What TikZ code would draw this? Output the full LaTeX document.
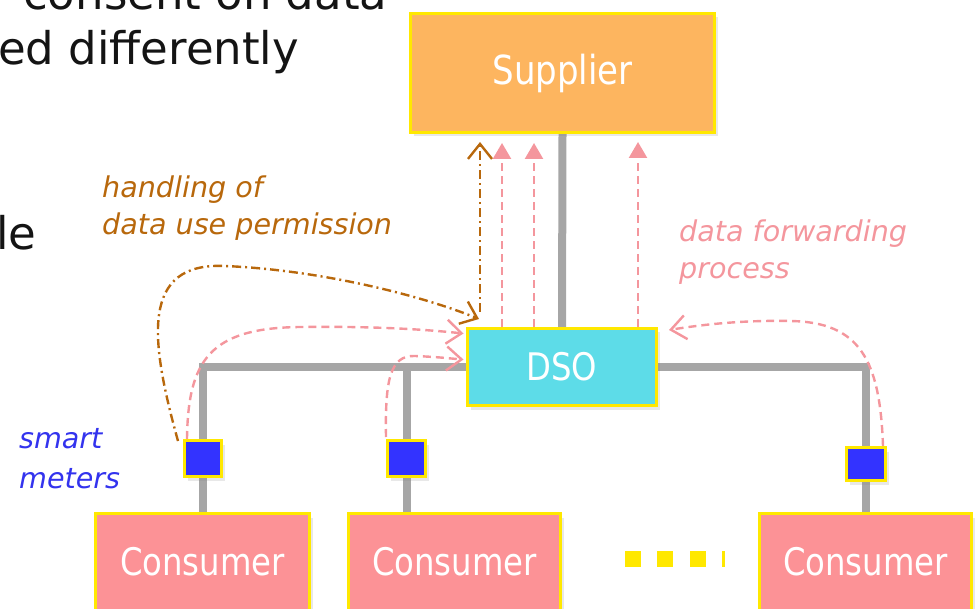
\documentclass[tikz,border=0pt]{standalone}
\usepackage{fontspec}
\setmainfont{DejaVu Sans}
\newfontfamily\boxfont{DejaVu Sans}[FakeStretch=0.85]
\usetikzlibrary{arrows.meta,calc,shadows}
\definecolor{supfill}{RGB}{253,181,95}
\definecolor{dsofill}{RGB}{93,220,232}
\definecolor{consfill}{RGB}{252,146,150}
\definecolor{meterfill}{RGB}{51,51,255}
\definecolor{bordc}{RGB}{255,232,0}
\definecolor{busc}{RGB}{166,166,166}
\definecolor{fwdc}{RGB}{244,150,157}
\definecolor{permc}{RGB}{184,104,12}
\definecolor{metertext}{RGB}{51,51,238}
\definecolor{dotc}{RGB}{255,232,0}
\pgfdeclarelayer{bg}
\pgfsetlayers{bg,main}
\tikzset{
  box/.style={draw=bordc, line width=3pt, text=white, inner sep=0pt,
    drop shadow={opacity=0.18, shadow xshift=3pt, shadow yshift=-4pt}},
  meterbox/.style={draw=bordc, line width=3pt, fill=meterfill, inner sep=0pt,
    drop shadow={opacity=0.18, shadow xshift=3pt, shadow yshift=-4pt}},
  bus/.style={draw=busc, line width=8pt},
  fwd/.style={draw=fwdc, line width=2.4pt, dash pattern=on 8pt off 5pt},
  fwdtri/.style={fwd, -{Triangle[length=16pt,width=18pt]}},
  fwdbarb/.style={fwd, -{Straight Barb[length=15pt,width=24pt,line width=2.4pt]}},
  perm/.style={draw=permc, line width=2.4pt, dash pattern=on 9pt off 4pt on 2pt off 4pt,
    -{Straight Barb[length=15pt,width=24pt,line width=2.4pt]}},
  lbl/.style={anchor=base west, inner sep=0pt, font=\itshape\fontsize{28.6}{34}\selectfont},
  slide/.style={anchor=base west, inner sep=0pt, font=\fontsize{45}{50}\selectfont, text=black!92},
}
\begin{document}
\begin{tikzpicture}[x=1pt,y=-1pt]
\useasboundingbox (0,0) rectangle (977,609);
\clip (0,0) rectangle (977,609);

% slide text (cut off)
\node[slide] (k1) at (23,10) {consent on data};
\node[slide] (k2) at (-2,65) {ed differently};
\node[slide] (k3) at (-4,250) {le};

% boxes
\node[box, fill=supfill, minimum width=304pt, minimum height=119pt,
  font=\boxfont\fontsize{40}{40}\selectfont] (sup) at (562.5,73) {Supplier};
\node[box, fill=dsofill, minimum width=189pt, minimum height=77pt,
  font=\boxfont\fontsize{38}{40}\selectfont] (dso) at (562,367) {DSO};
\node[box, fill=consfill, minimum width=214pt, minimum height=97pt,
  font=\boxfont\fontsize{38}{40}\selectfont] (c1) at (202.5,562) {Consumer};
\node[box, fill=consfill, minimum width=212pt, minimum height=97pt,
  font=\boxfont\fontsize{38}{40}\selectfont] (c2) at (454.5,562) {Consumer};
\node[box, fill=consfill, minimum width=212pt, minimum height=97pt,
  font=\boxfont\fontsize{38}{40}\selectfont] (c3) at (865.5,562) {Consumer};

% smart meters
\node[meterbox, minimum width=37pt, minimum height=36pt] (m1) at (203,458.5) {};
\node[meterbox, minimum width=38pt, minimum height=36pt] (m2) at (406.5,458.5) {};
\node[meterbox, minimum width=39pt, minimum height=33pt] (m3) at (866,464) {};

% grid lines
\begin{pgfonlayer}{bg}
\draw[bus] (sup.south) -- (dso.north);
\draw[bus] (m1.north) |- (dso.west);
\draw[bus] (m2.north) |- (dso.west);
\draw[bus] (m3.north) |- (dso.east);
\draw[bus] (m1.south) -- (m1.south |- c1.north);
\draw[bus] (m2.south) -- (m2.south |- c2.north);
\draw[bus] (m3.south) -- (m3.south |- c3.north);
\end{pgfonlayer}

% continuation squares
\fill[dotc] (625,551) rectangle (641,567);
\fill[dotc] (657,551) rectangle (673,567);
\fill[dotc] (690,551) rectangle (706,567);
\fill[dotc] (722,551) rectangle (724.5,567);

% vertical data forwarding arrows
\coordinate (t1) at (502,143);
\coordinate (t2) at (534,143);
\coordinate (t3) at (638,142);
\draw[fwdtri] (dso.north -| t1) -- (t1);
\draw[fwdtri] (dso.north -| t2) -- (t2);
\draw[fwdtri] (dso.north -| t3) -- (t3);

% permission arrows
\coordinate (p0) at (480,312);
\coordinate (p1) at (480,142);
\coordinate (pin) at (479,319);
\draw[perm] (p0) -- (p1);
\draw[perm] ($(m1.north west)+(-5,2)$) .. controls (150,340) and (140,262) .. (225,266)
  .. controls (320,270) and (420,295) .. (pin);

% meter to DSO arrows
\coordinate (d1) at ($(dso.north west)+(-2.5,6.5)$);
\coordinate (d2) at ($(dso.north west)+(-2.5,32.5)$);
\coordinate (d3) at ($(dso.north east)+(11,3)$);
\draw[fwdbarb] ($(m1.north west)+(4,0)$) .. controls (188,360) and (210,328) .. (300,327)
  .. controls (380,326) and (430,330) .. (d1);
\draw[fwdbarb] ($(m2.north west)+(0,-2)$) .. controls (385,380) and (390,355) .. (415,356)
  .. controls (440,357) and (455,359) .. (d2);
\draw[fwdbarb] ($(m3.north east)+(-4,0)$) .. controls (880,360) and (860,322) .. (790,321)
  .. controls (740,320) and (700,325) .. (d3);

% labels
\node[lbl, text=permc] (h1) at (102,198) {handling of};
\node[lbl, text=permc] (h2) at (102,235) {data use permission};
\node[lbl, text=fwdc] (f1) at (679,242) {data forwarding};
\node[lbl, text=fwdc] (f2) at (679,279) {process};
\node[lbl, text=metertext] (s1) at (19,448) {smart};
\node[lbl, text=metertext] (s2) at (19,488) {meters};
\end{tikzpicture}
\end{document}
